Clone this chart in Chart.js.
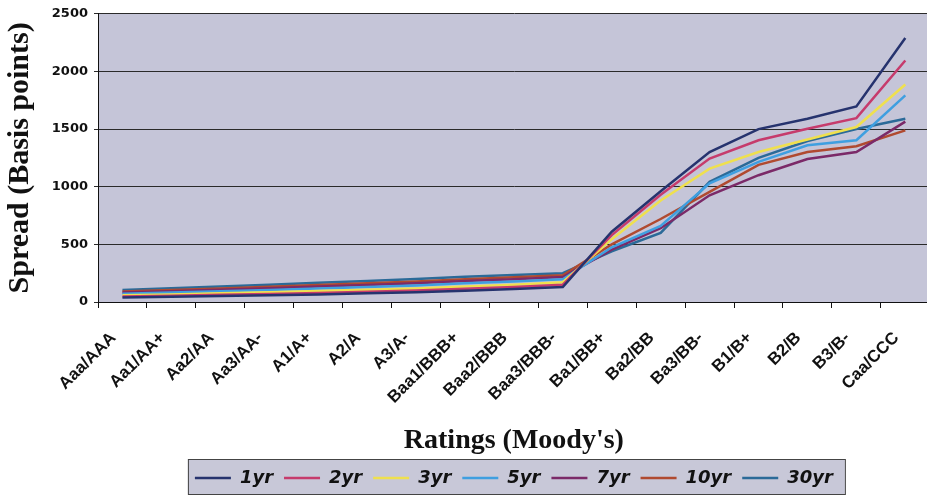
<!DOCTYPE html>
<html>
<head>
<meta charset="utf-8">
<script src="https://cdn.jsdelivr.net/npm/chart.js@4.4.1/dist/chart.umd.min.js"></script>
<style>
  html, body { margin: 0; padding: 0; background: #fff; overflow: hidden; }
  #wrap { position: relative; width: 940px; height: 497px; }
</style>
</head>
<body>
<div id="wrap"><canvas id="spreadChart"></canvas></div>
<script>
// Ratings on the x axis
const ratings = ['Aaa/AAA', 'Aa1/AA+', 'Aa2/AA', 'Aa3/AA-', 'A1/A+', 'A2/A', 'A3/A-',
  'Baa1/BBB+', 'Baa2/BBB', 'Baa3/BBB-', 'Ba1/BB+', 'Ba2/BB', 'Ba3/BB-', 'B1/B+', 'B2/B', 'B3/B-', 'Caa/CCC'];

// Spreads in basis points
const spread1yr  = [40, 45, 52, 58, 66, 75, 85, 98, 112, 130, 610, 960, 1300, 1500, 1590, 1697, 2290];
const spread2yr  = [48, 55, 62, 70, 79, 89, 100, 114, 130, 150, 580, 930, 1244, 1403, 1503, 1595, 2095];
const spread3yr  = [58, 66, 75, 84, 95, 106, 118, 134, 150, 172, 545, 880, 1157, 1301, 1410, 1518, 1887];
const spread5yr  = [72, 82, 93, 105, 118, 130, 144, 162, 178, 198, 475, 660, 1030, 1215, 1359, 1403, 1792];
const spread7yr  = [82, 93, 106, 119, 134, 148, 163, 182, 198, 216, 455, 640, 926, 1100, 1240, 1301, 1565];
const spread10yr = [92, 104, 118, 132, 148, 162, 178, 198, 214, 232, 500, 720, 955, 1190, 1301, 1351, 1489];
const spread30yr = [105, 120, 135, 150, 168, 182, 200, 220, 235, 250, 440, 600, 1042, 1250, 1397, 1500, 1590];

const seriesNames = ['1yr', '2yr', '3yr', '5yr', '7yr', '10yr', '30yr'];
const yTicks = [0, 500, 1000, 1500, 2000, 2500];

const seriesData = [spread1yr, spread2yr, spread3yr, spread5yr, spread7yr, spread10yr, spread30yr];
const seriesColors = ['#26336e', '#c63b6c', '#efe04e', '#3f9fe0', '#7b2a68', '#b04a30', '#2b6a98'];

// fundo cinza da área do gráfico + caixa da legenda
const backgroundPlugin = {
  id: 'backgrounds',
  beforeDraw(chart) {
    const { ctx, chartArea } = chart;
    ctx.save();
    ctx.fillStyle = '#c5c5d8';
    ctx.fillRect(chartArea.left, chartArea.top, chartArea.right - chartArea.left, chartArea.bottom - chartArea.top);

    const boxes = chart.legend && chart.legend.legendHitBoxes;
    if (boxes && boxes.length) {
      const left = Math.min(...boxes.map(b => b.left)) - 7;
      const right = Math.max(...boxes.map(b => b.left + b.width)) + 12;
      const top = Math.min(...boxes.map(b => b.top)) - 10;
      const bottom = Math.max(...boxes.map(b => b.top + b.height)) + 7;
      ctx.fillStyle = '#c8c8d8';
      ctx.fillRect(left, top, right - left, bottom - top);
      ctx.strokeStyle = '#444';
      ctx.lineWidth = 1;
      ctx.strokeRect(left + 0.5, top + 0.5, right - left, bottom - top);
    }
    ctx.restore();
  }
};

const ctx = document.getElementById('spreadChart').getContext('2d');
new Chart(ctx, {
  type: 'line',
  data: {
    labels: ratings,
    datasets: seriesNames.map((name, i) => ({
      label: name,
      data: seriesData[i],
      borderColor: seriesColors[i],
      backgroundColor: seriesColors[i],
      borderWidth: 2.5,
      pointRadius: 0,
      tension: 0,
      fill: false
    }))
  },
  options: {
    responsive: true,
    maintainAspectRatio: false,
    animation: false,
    layout: { padding: { top: 13, right: 9, left: 0, bottom: 0 } },
    scales: {
      x: {
        offset: true,
        grid: { offset: true, drawOnChartArea: false, color: '#111', tickLength: 6 },
        border: { color: '#111', width: 1 },
        ticks: {
          maxRotation: 45, minRotation: 45, autoSkip: false, padding: 20, labelOffset: -9,
          color: '#111', font: { family: 'Liberation Sans', weight: 'bold', size: 17 }
        },
        title: {
          display: true, text: "Ratings (Moody's)", color: '#111',
          font: { family: 'Liberation Serif', weight: 'bold', size: 28 }, padding: { top: 4, bottom: 0 }
        },
        afterFit(scale) { scale.height = 156; }
      },
      y: {
        min: 0, max: 2500,
        afterBuildTicks(scale) { scale.ticks = yTicks.map(v => ({ value: v })); },
        grid: { color: '#2a2a2a', lineWidth: 1, tickLength: 4 },
        border: { color: '#111', width: 1 },
        ticks: {
          padding: 6, color: '#111', font: { family: 'DejaVu Sans', weight: 'bold', size: 13 },
          callback: v => String(v)
        },
        title: {
          display: true, text: 'Spread (Basis points)', color: '#111',
          font: { family: 'Liberation Serif', weight: 'bold', size: 30 }, padding: { top: 2, bottom: 0 }
        },
        afterFit(scale) { scale.width = 98; }
      }
    },
    plugins: {
      legend: {
        position: 'bottom',
        fullSize: false,
        labels: {
          usePointStyle: true, pointStyle: 'line', pointStyleWidth: 36,
          padding: 11, color: '#111',
          font: { family: 'DejaVu Sans', weight: 'bold', style: 'italic', size: 18 }
        }
      },
      tooltip: { enabled: false }
    }
  },
  plugins: [backgroundPlugin]
});
</script>
</body>
</html>
